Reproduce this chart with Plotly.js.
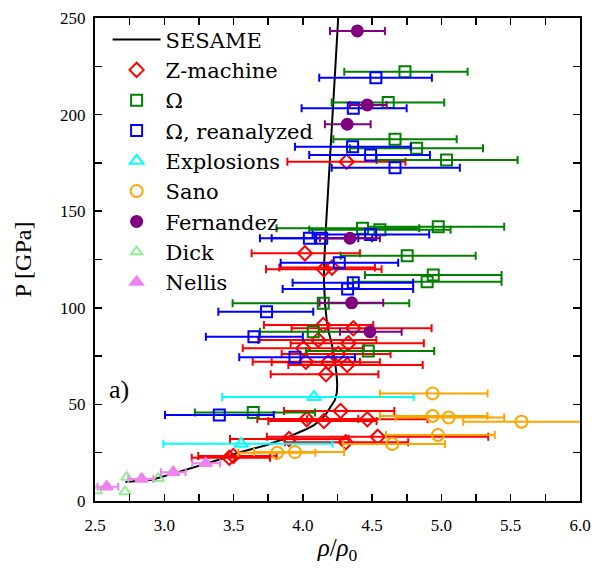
<!DOCTYPE html>
<html>
<head>
<meta charset="utf-8">
<script src="https://cdn.plot.ly/plotly-3.0.1.min.js"></script>
<style>html,body{margin:0;padding:0;background:#fff}#chart{width:595px;height:568px}</style>
</head>
<body>
<div id="chart"></div>
<script>
// SESAME curve
const sesameX = [2.72, 2.80, 2.91, 3.07, 3.18, 3.31, 3.40, 3.52, 3.64, 3.74, 3.85, 3.93, 4.02, 4.08, 4.13, 4.17, 4.20, 4.232, 4.245, 4.248, 4.244, 4.232, 4.208, 4.185, 4.172, 4.160, 4.152, 4.155, 4.165, 4.180, 4.196, 4.215, 4.235, 4.255];
const sesameP = [9.8, 10.4, 11.0, 14.3, 16.5, 19.5, 21.5, 24.7, 27.0, 29.0, 31.8, 34.2, 37.0, 39.3, 42.0, 45.4, 48.5, 52.3, 56.0, 60.0, 65.0, 72.0, 81.6, 88.0, 93.7, 102.0, 114.4, 125.0, 140.0, 157.5, 174.8, 200.0, 225.0, 250.0];

// Z-machine (x, P, lower and upper ends of x error bars)
const zX  = [4.316, 4.015, 4.152, 4.210, 4.147, 4.364, 4.111, 4.328, 4.003, 4.255, 4.022, 4.183, 4.320, 4.167, 4.272, 4.027, 4.152, 4.465, 4.540, 3.900, 4.309, 3.469, 3.498];
const zP  = [175.6, 128.2, 119.9, 120.8, 91.1, 89.4, 83.3, 81.6, 79.0, 76.1, 72.1, 71.8, 70.4, 65.6, 46.6, 42.4, 41.4, 42.3, 33.2, 32.1, 30.4, 22.4, 23.3];
const zLo = [3.888, 3.630, 3.734, 3.830, 3.719, 3.919, 3.678, 3.912, 3.566, 3.847, 3.638, 3.775, 3.895, 3.768, 3.864, 3.671, 3.751, 4.030, 3.740, 3.474, 3.870, 3.198, 3.245];
const zHi = [4.740, 4.412, 4.568, 4.520, 4.508, 4.929, 4.530, 4.873, 4.440, 4.633, 4.412, 4.556, 4.865, 4.545, 4.660, 4.400, 4.532, 4.900, 5.338, 4.330, 4.760, 3.763, 3.811];

// Omega
const oX  = [4.737, 4.616, 4.665, 4.821, 5.037, 4.977, 4.431, 4.556, 4.753, 4.941, 4.897, 4.147, 4.075, 4.472, 3.642];
const oP  = [222.2, 206.2, 187.2, 182.6, 176.5, 142.0, 141.2, 140.4, 127.0, 117.0, 113.5, 102.3, 87.6, 77.6, 45.8];
const oLo = [4.299, 4.208, 4.220, 4.340, 4.532, 4.470, 3.810, 4.046, 4.273, 4.448, 4.360, 3.493, 3.690, 4.022, 3.221];
const oHi = [5.189, 5.020, 5.110, 5.300, 5.550, 5.453, 4.840, 5.066, 5.247, 5.434, 5.434, 4.768, 4.460, 4.948, 4.087];

// Omega, reanalyzed
const rX  = [4.527, 4.364, 4.359, 4.489, 4.665, 4.047, 4.136, 4.489, 4.263, 4.364, 4.323, 3.738, 3.647, 3.943, 3.397];
const rP  = [219.1, 203.3, 183.4, 179.1, 172.5, 136.0, 136.0, 138.0, 123.3, 113.0, 109.7, 98.0, 85.0, 74.4, 44.5];
const rLo = [4.118, 3.991, 3.943, 4.046, 4.208, 3.690, 3.775, 4.070, 3.840, 3.926, 3.854, 3.390, 3.300, 3.541, 3.005];
const rHi = [4.931, 4.749, 4.778, 4.917, 5.133, 4.400, 4.500, 4.912, 4.688, 4.796, 4.796, 4.075, 4.000, 4.376, 3.790];

// Explosions
const eX  = [4.080, 3.555];
const eP  = [53.8, 29.6];
const eLo = [3.418, 2.993];
const eHi = [4.800, 4.215];

// Sano
const sX  = [4.936, 4.936, 5.052, 5.578, 4.975, 4.645, 3.943, 3.815];
const sP  = [55.7, 44.0, 43.2, 41.0, 34.2, 29.5, 25.3, 25.0];
const sLo = [4.556, 4.556, 4.670, 5.157, 4.600, 4.291, 3.647, 3.534];
const sHi = [5.333, 5.333, 5.453, 6.100, 5.385, 5.025, 4.298, 4.090];

// Fernandez
const fX  = [4.393, 4.465, 4.320, 4.340, 4.352, 4.484];
const fP  = [243.3, 205.0, 195.0, 136.0, 102.6, 87.6];
const fLo = [4.196, 4.340, 4.159, 4.123, 4.120, 4.268];
const fHi = [4.592, 4.605, 4.489, 4.556, 4.580, 4.713];

// Dick
const dX = [2.512, 2.716, 2.729, 2.957];
const dP = [5.3, 4.8, 12.3, 11.7];

// Nellis
const nX  = [2.584, 2.837, 3.065, 3.299];
const nP  = [7.4, 11.4, 14.9, 19.5];
const nLo = [2.519, 2.740, 2.976, 3.202];
const nHi = [2.668, 2.921, 3.154, 3.402];

const xTickVals = [2.5, 3.0, 3.5, 4.0, 4.5, 5.0, 5.5, 6.0];
const xTickText = ['2.5', '3.0', '3.5', '4.0', '4.5', '5.0', '5.5', '6.0'];
const yTickVals = [0, 50, 100, 150, 200, 250];
const yTickText = ['0', '50', '100', '150', '200', '250'];

const FONT = 'Liberation Serif';
const LFONT = 'DejaVu Serif';

function errs(x, lo, hi, color) {
  return {
    type: 'data', symmetric: false,
    array: x.map((v, i) => hi[i] - v),
    arrayminus: x.map((v, i) => v - lo[i]),
    color: color, thickness: 2, width: 4
  };
}

function series(name, x, y, lo, hi, color, symbol, size) {
  const t = {
    type: 'scatter', mode: 'markers', name: name, x: x, y: y,
    marker: {symbol: symbol, size: size, color: color, line: {color: color, width: 2}},
    cliponaxis: true
  };
  if (lo) t.error_x = errs(x, lo, hi, color);
  return t;
}

const traces = [
  {type: 'scatter', mode: 'lines', name: 'SESAME', x: sesameX, y: sesameP,
   line: {color: 'black', width: 2}},
  series('Z-machine', zX, zP, zLo, zHi, '#ff0000', 'diamond-open', 11),
  series('Ω', oX, oP, oLo, oHi, '#008000', 'square-open', 11),
  series('Ω, reanalyzed', rX, rP, rLo, rHi, '#0000ff', 'square-open', 11),
  series('Explosions', eX, eP, eLo, eHi, '#00ffff', 'triangle-up-open', 12),
  series('Sano', sX, sP, sLo, sHi, '#ffa500', 'circle-open', 12),
  series('Fernandez', fX, fP, fLo, fHi, '#800080', 'circle', 11),
  series('Dick', dX, dP, null, null, '#90ee90', 'triangle-up-open', 10),
  series('Nellis', nX, nP, nLo, nHi, '#ee82ee', 'triangle-up', 11)
];

const layout = {
  width: 595, height: 568,
  margin: {l: 95, r: 15, t: 18, b: 67},
  paper_bgcolor: 'white', plot_bgcolor: 'white',
  font: {family: FONT, color: 'black', size: 16},
  showlegend: true,
  legend: {x: 0.026, y: 0.997, xanchor: 'left', yanchor: 'top',
           bgcolor: 'rgba(255,255,255,0)', borderwidth: 0, itemwidth: 48,
           font: {family: LFONT, size: 21, color: 'black'}},
  xaxis: {
    range: [2.5, 6.0], showgrid: false, zeroline: false,
    showline: true, linecolor: 'black', linewidth: 2, mirror: 'ticks',
    ticks: 'inside', ticklen: 7, tickwidth: 1.5, tickcolor: 'black',
    tickmode: 'array', tickvals: xTickVals, ticktext: xTickText,
    minor: {dtick: 0.25, tick0: 2.5, ticks: 'inside', ticklen: 7, tickwidth: 1.5, tickcolor: 'black'},
    ticklabelstandoff: 8,
    tickfont: {family: FONT, size: 17},
    title: {text: '<i>ρ</i>/<i>ρ</i><sub>0</sub>', font: {family: FONT, size: 25}, standoff: 4}
  },
  yaxis: {
    range: [0, 250], showgrid: false, zeroline: false,
    showline: true, linecolor: 'black', linewidth: 2, mirror: 'ticks',
    ticks: 'inside', ticklen: 7, tickwidth: 1.5, tickcolor: 'black',
    tickmode: 'array', tickvals: yTickVals, ticktext: yTickText,
    minor: {dtick: 25, tick0: 0, ticks: 'inside', ticklen: 7, tickwidth: 1.5, tickcolor: 'black'},
    ticklabelstandoff: 4,
    tickfont: {family: FONT, size: 17},
    title: {text: 'P [GPa]', font: {family: FONT, size: 24}, standoff: 22}
  },
  annotations: [
    {x: 2.67, y: 57.5, xref: 'x', yref: 'y', text: 'a)', showarrow: false,
     font: {family: FONT, size: 26, color: 'black'}}
  ]
};

Plotly.newPlot('chart', traces, layout, {displayModeBar: false, staticPlot: true});
</script>
</body>
</html>
